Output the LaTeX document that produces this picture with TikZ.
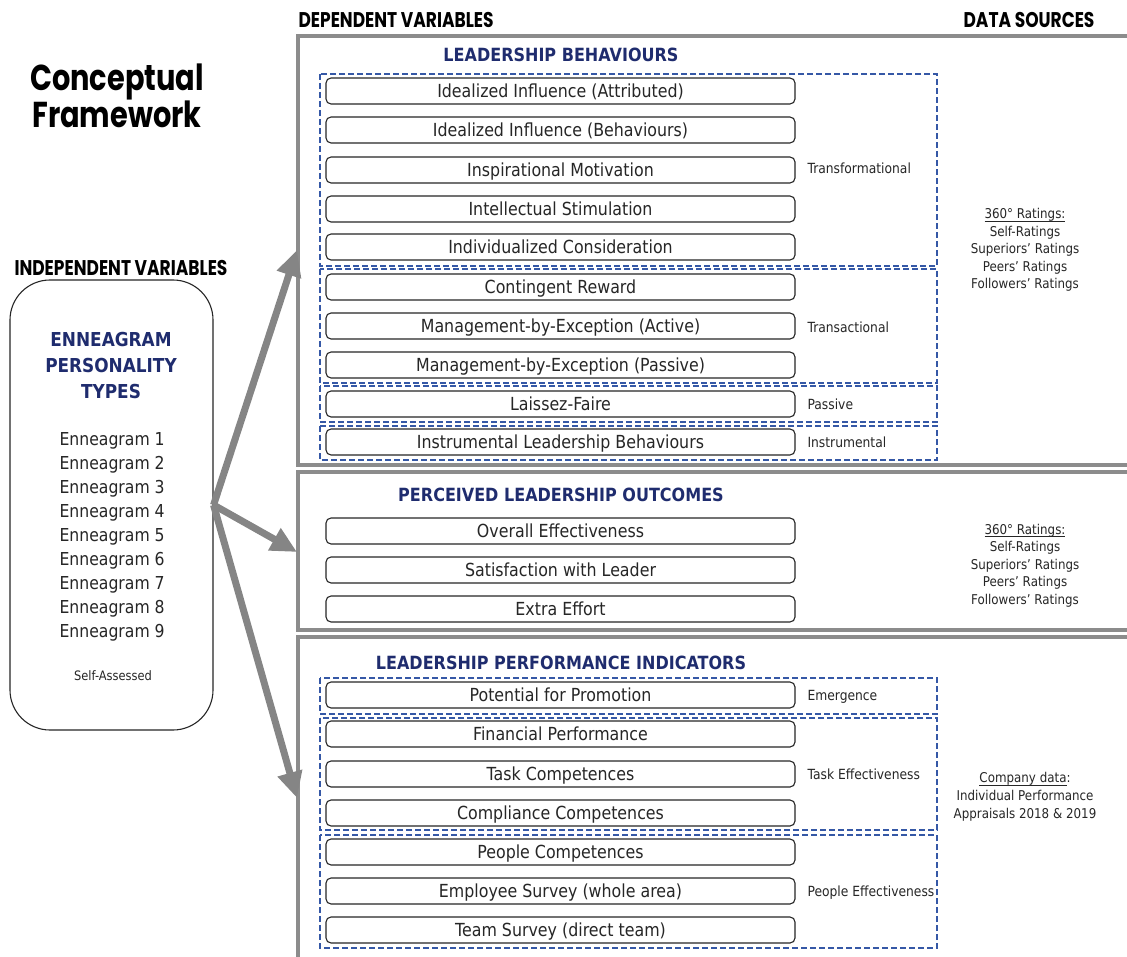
\documentclass[tikz,border=0pt]{standalone}
\usepackage{fontspec}
\setmainfont{DejaVu Sans}[FakeStretch=0.88]
\newfontfamily\gothic{Poppins}[FakeStretch=0.8]
\usetikzlibrary{arrows.meta}
\definecolor{navy}{HTML}{1F2C6E}
\definecolor{dashblue}{HTML}{3558A6}
\definecolor{framegray}{HTML}{8C8C8C}
\definecolor{arrowgray}{HTML}{858585}
\definecolor{ink}{HTML}{262626}

% underline with a fixed depth and weight
\newcommand\srcul[1]{\setbox0\hbox{#1}\rlap{\rule[-3pt]{\wd0}{0.9pt}}\box0}

\tikzset{
  item/.style={draw=ink, line width=1.1pt, rounded corners=5pt, minimum width=469pt,
    minimum height=26pt, inner sep=0pt, text height=13pt, text depth=0pt, fill=white,
    font=\fontsize{18}{20}\selectfont, text=ink},
  grp/.style={draw=dashblue, line width=1.8pt, dash pattern=on 6pt off 3pt},
  frame/.style={draw=framegray, line width=4pt},
  sectitle/.style={font=\bfseries\fontsize{18.2}{20}\selectfont, text=navy},
  grplabel/.style={anchor=west, font=\fontsize{14}{16}\selectfont, text=ink},
  src/.style={align=center, font=\fontsize{13.5}{17.5}\selectfont, text=ink},
  head/.style={font=\gothic\bfseries\fontsize{21.3}{23}\selectfont},
  link/.style={draw=arrowgray, line width=7pt, -{Triangle[length=26pt,width=24pt]}},
}

\begin{document}
\begin{tikzpicture}[x=1pt,y=-1pt]
\useasboundingbox (0,0) rectangle (1127,957);

% headings
\node[font=\gothic\bfseries\fontsize{36}{37}\selectfont, align=center] (title) at (117,96) {Conceptual\\Framework};
\node[head, anchor=west] (dephead) at (295,20) {DEPENDENT VARIABLES};
\node[head, anchor=east] (srchead) at (1098,20) {DATA SOURCES};
\node[head] (indhead) at (121,268) {INDEPENDENT VARIABLES};

% section frames (open on the right)
\draw[frame] (1135,36) -| (298,465) -- (1135,465);
\draw[frame] (1135,472) -| (298,630) -- (1135,630);
\draw[frame] (1135,637) -| (298,965);

% independent variables box
\node[draw=ink, line width=1.1pt, rounded corners=40pt, minimum width=203pt, minimum height=450pt,
  fill=white] (ind) at (111.5,505) {};
\node[font=\bfseries\fontsize{19.2}{26}\selectfont, text=navy, align=center] (ennhead) at (111,366)
  {ENNEAGRAM\\PERSONALITY\\TYPES};
\node[font=\fontsize{17.8}{24}\selectfont, text=ink, align=left, anchor=west] (ennlist) at (56,537)
  {Enneagram 1\\Enneagram 2\\Enneagram 3\\Enneagram 4\\Enneagram 5\\Enneagram 6\\Enneagram 7\\Enneagram 8\\Enneagram 9};
\node[font=\fontsize{13}{15}\selectfont, text=ink] (selfass) at (113,676) {Self-Assessed};

% arrow targets on the section frames
\coordinate (t1) at (297,250);
\coordinate (t2) at (297,552);
\coordinate (t3) at (297,798);
\draw[link] (ind.east) -- (t1);
\draw[link] (ind.east) -- (t2);
\draw[link] (ind.east) -- (t3);

% ---- Leadership behaviours
\node[sectitle] (lb) at (561,55) {LEADERSHIP BEHAVIOURS};
\draw[grp] (320,74) rectangle (937,266);
\draw[grp] (320,269) rectangle (937,383);
\draw[grp] (320,386) rectangle (937,422);
\draw[grp] (320,426) rectangle (937,460);
\node[item] (b1) at (560.5,91) {Idealized Influence (Attributed)};
\node[item] (b2) at (560.5,130) {Idealized Influence (Behaviours)};
\node[item] (b3) at (560.5,170) {Inspirational Motivation};
\node[item] (b4) at (560.5,209) {Intellectual Stimulation};
\node[item] (b5) at (560.5,247) {Individualized Consideration};
\node[item] (b6) at (560.5,287) {Contingent Reward};
\node[item] (b7) at (560.5,326) {Management-by-Exception (Active)};
\node[item] (b8) at (560.5,365) {Management-by-Exception (Passive)};
\node[item] (b9) at (560.5,404) {Laissez-Faire};
\node[item] (b10) at (560.5,442) {Instrumental Leadership Behaviours};
\node[grplabel] (gtf) at (804,168) {Transformational};
\node[grplabel] (gta) at (804,327) {Transactional};
\node[grplabel] (gpa) at (804,404) {Passive};
\node[grplabel] (gin) at (804,442) {Instrumental};
\node[src] (src1) at (1025,250) {\srcul{360° Ratings:}\\Self-Ratings\\Superiors’ Ratings\\Peers’ Ratings\\Followers’ Ratings};

% ---- Perceived leadership outcomes
\node[sectitle] (plo) at (561,495) {PERCEIVED LEADERSHIP OUTCOMES};
\node[item] (o1) at (560.5,531) {Overall Effectiveness};
\node[item] (o2) at (560.5,570) {Satisfaction with Leader};
\node[item] (o3) at (560.5,609) {Extra Effort};
\node[src] (src2) at (1025,565.5) {\srcul{360° Ratings:}\\Self-Ratings\\Superiors’ Ratings\\Peers’ Ratings\\Followers’ Ratings};

% ---- Leadership performance indicators
\node[sectitle] (lpi) at (561,663) {LEADERSHIP PERFORMANCE INDICATORS};
\draw[grp] (320,678) rectangle (937,714);
\draw[grp] (320,718) rectangle (937,830);
\draw[grp] (320,835) rectangle (937,948);
\node[item] (p1) at (560.5,695) {Potential for Promotion};
\node[item] (p2) at (560.5,734) {Financial Performance};
\node[item] (p3) at (560.5,774) {Task Competences};
\node[item] (p4) at (560.5,813) {Compliance Competences};
\node[item] (p5) at (560.5,852) {People Competences};
\node[item] (p6) at (560.5,891) {Employee Survey (whole area)};
\node[item] (p7) at (560.5,930) {Team Survey (direct team)};
\node[grplabel] (gem) at (804,697) {Emergence};
\node[grplabel] (gte) at (804,774) {Task Effectiveness};
\node[grplabel] (gpe) at (804,893) {People Effectiveness};
\node[src, font=\fontsize{13.5}{18}\selectfont] (src3) at (1025,797) {\srcul{Company data}:\\Individual Performance\\Appraisals 2018 \& 2019};
\end{tikzpicture}
\end{document}
